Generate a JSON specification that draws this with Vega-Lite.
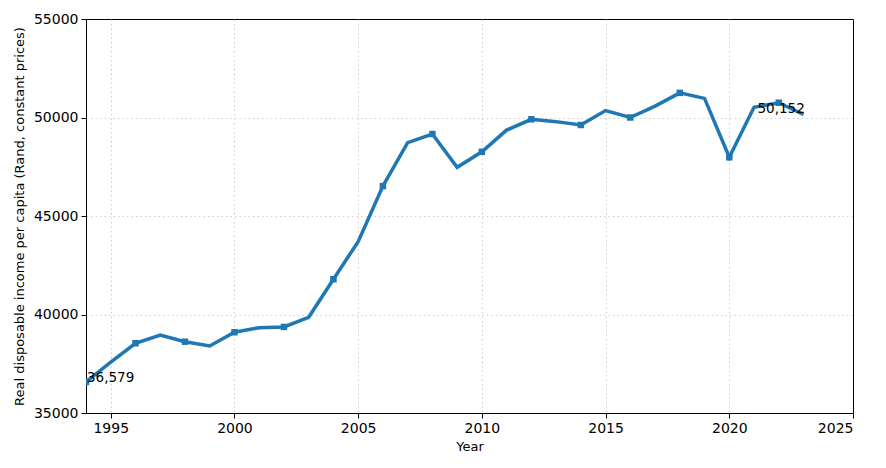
{
  "$schema": "https://vega.github.io/schema/vega-lite/v6.json",
  "width": 767,
  "height": 394,
  "autosize": {"type": "none"},
  "padding": {"left": 86, "top": 19, "right": 33, "bottom": 55},
  "background": "white",
  "config": {
    "font": "DejaVu Sans",
    "view": {"stroke": "black", "strokeWidth": 1},
    "axis": {
      "labelFont": "DejaVu Sans",
      "titleFont": "DejaVu Sans",
      "labelFontSize": 14,
      "titleFontSize": 13,
      "titleFontWeight": "normal",
      "labelColor": "black",
      "titleColor": "black",
      "domainColor": "black",
      "tickColor": "black",
      "tickSize": 5,
      "labelPadding": 3,
      "gridColor": "#c8c8c8",
      "gridDash": [1.5, 3],
      "gridWidth": 0.9
    }
  },
  "datasets": {
    "series": [
      {"year": 1994, "value": 36579, "marker": true},
      {"year": 1995, "value": 37580, "marker": false},
      {"year": 1996, "value": 38540, "marker": true},
      {"year": 1997, "value": 38960, "marker": false},
      {"year": 1998, "value": 38620, "marker": true},
      {"year": 1999, "value": 38400, "marker": false},
      {"year": 2000, "value": 39100, "marker": true},
      {"year": 2001, "value": 39330, "marker": false},
      {"year": 2002, "value": 39370, "marker": true},
      {"year": 2003, "value": 39860, "marker": false},
      {"year": 2004, "value": 41790, "marker": true},
      {"year": 2005, "value": 43700, "marker": false},
      {"year": 2006, "value": 46520, "marker": true},
      {"year": 2007, "value": 48720, "marker": false},
      {"year": 2008, "value": 49160, "marker": true},
      {"year": 2009, "value": 47470, "marker": false},
      {"year": 2010, "value": 48260, "marker": true},
      {"year": 2011, "value": 49360, "marker": false},
      {"year": 2012, "value": 49910, "marker": true},
      {"year": 2013, "value": 49790, "marker": false},
      {"year": 2014, "value": 49620, "marker": true},
      {"year": 2015, "value": 50350, "marker": false},
      {"year": 2016, "value": 50000, "marker": true},
      {"year": 2017, "value": 50580, "marker": false},
      {"year": 2018, "value": 51250, "marker": true},
      {"year": 2019, "value": 50970, "marker": false},
      {"year": 2020, "value": 47980, "marker": true},
      {"year": 2021, "value": 50520, "marker": false},
      {"year": 2022, "value": 50750, "marker": true},
      {"year": 2023, "value": 50152, "marker": false}
    ],
    "labels": [
      {"year": 1994, "value": 36579, "label": "36,579", "pos": "first"},
      {"year": 2023, "value": 50152, "label": "50,152", "pos": "last"}
    ]
  },
  "layer": [
    {
      "data": {"name": "series"},
      "mark": {"type": "line", "color": "#1f77b4", "strokeWidth": 3.5, "clip": true},
      "encoding": {
        "x": {
          "field": "year", "type": "quantitative",
          "scale": {"domain": [1994, 2025], "nice": false, "zero": false},
          "axis": {
            "values": [1995, 2000, 2005, 2010, 2015, 2020, 2025], "format": "d", "title": "Year", "titlePadding": 5, "grid": true,
            "gridOpacity": {"condition": {"test": "datum.value == 2025", "value": 0}, "value": 1}
          }
        },
        "y": {
          "field": "value", "type": "quantitative",
          "scale": {"domain": [35000, 55000], "nice": false, "zero": false},
          "axis": {
            "values": [35000, 40000, 45000, 50000, 55000], "format": "d", "title": "Real disposable income per capita (Rand, constant prices)", "titlePadding": 7, "grid": true,
            "gridOpacity": {"condition": {"test": "datum.value == 55000", "value": 0}, "value": 1}
          }
        }
      }
    },
    {
      "data": {"name": "series"},
      "transform": [{"filter": "datum.marker"}],
      "mark": {"type": "square", "color": "#1f77b4", "opacity": 1, "size": 42, "filled": true, "clip": true},
      "encoding": {
        "x": {"field": "year", "type": "quantitative"},
        "y": {"field": "value", "type": "quantitative"}
      }
    },
    {
      "data": {"name": "labels"},
      "transform": [{"filter": "datum.pos == 'first'"}],
      "mark": {"type": "text", "align": "left", "baseline": "alphabetic", "fontSize": 13.5, "color": "black", "dx": 1},
      "encoding": {
        "x": {"field": "year", "type": "quantitative"},
        "y": {"field": "value", "type": "quantitative"},
        "text": {"field": "label"}
      }
    },
    {
      "data": {"name": "labels"},
      "transform": [{"filter": "datum.pos == 'last'"}],
      "mark": {"type": "text", "align": "left", "baseline": "alphabetic", "fontSize": 13.5, "color": "black", "dx": -46, "dy": -2},
      "encoding": {
        "x": {"field": "year", "type": "quantitative"},
        "y": {"field": "value", "type": "quantitative"},
        "text": {"field": "label"}
      }
    }
  ]
}
